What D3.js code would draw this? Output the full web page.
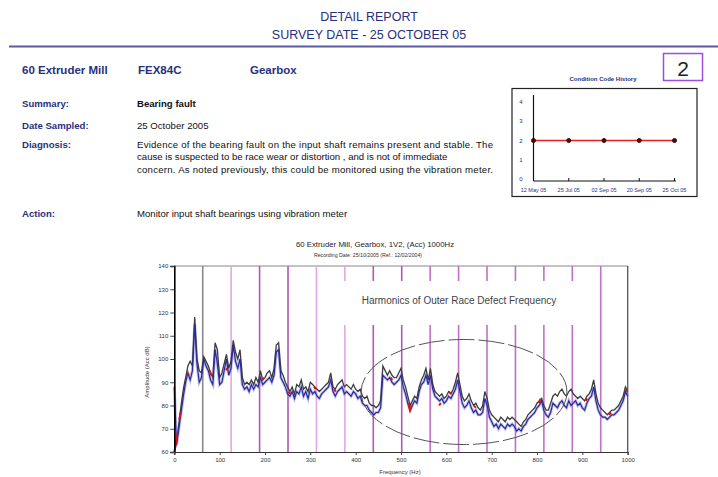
<!DOCTYPE html>
<html>
<head>
<meta charset="utf-8">
<script src="https://cdn.jsdelivr.net/npm/d3@7"></script>
<style>
  html, body { margin: 0; padding: 0; background: #fff; }
  svg { display: block; font-family: "Liberation Sans", Arial, sans-serif; }
</style>
</head>
<body>
<svg id="page" width="718" height="477"></svg>
<script>
// ---- Report data -------------------------------------------------------
const conditionDates = ["12 May 05", "25 Jul 05", "02 Sep 05", "20 Sep 05", "25 Oct 05"];
const conditionCodes = [2, 2, 2, 2, 2];
const conditionTicks = [0, 1, 2, 3, 4];

// Spectrum sampled every 5 Hz from 0 to 1000 Hz (Acc dB)
const freqStep = 5;
const referenceTrace = [
  60, 64, 72, 80, 87, 92, 97, 99, 97, 118, 100, 95, 94, 101, 99, 97, 94, 92, 107, 104,
  92, 94, 98, 102, 96, 99, 108, 103, 100, 104, 92, 89, 90, 89, 91, 89, 92, 90, 95, 91,
  92, 94, 95, 92, 96, 106, 107, 95, 93, 90, 88, 86, 88, 85, 89, 88, 91, 87, 88, 86,
  90, 89, 88, 87, 86, 87, 88, 89, 90, 94, 88, 87, 89, 90, 91, 88, 89, 88, 87, 89,
  87, 86, 87, 84, 83, 84, 81, 80, 80, 79, 80, 82, 97, 95, 93, 95, 93, 92, 92, 94,
  96, 91, 88, 84, 80, 82, 84, 83, 88, 91, 93, 96, 91, 96, 89, 86, 85, 84, 85, 83,
  84, 86, 85, 87, 90, 94, 89, 84, 82, 83, 85, 82, 80, 81, 79, 78, 80, 86, 83, 78,
  76, 75, 74, 73, 75, 74, 73, 75, 74, 75, 74, 73, 72, 71, 73, 74, 76, 77, 78, 79,
  81, 82, 83, 80, 78, 78, 81, 84, 85, 84, 86, 87, 85, 84, 86, 87, 85, 84, 83, 84,
  83, 82, 84, 85, 87, 91, 85, 81, 79, 78, 77, 76, 77, 78, 78, 79, 80, 82, 84, 88,
  86
];
const currentTrace = [
  88, 63, 70, 77, 84, 90, 94, 91, 95, 115, 98, 90, 92, 100, 97, 95, 91, 89, 104, 98,
  89, 90, 95, 100, 93, 96, 106, 99, 96, 100, 89, 87, 88, 86, 89, 87, 89, 88, 92, 89,
  90, 91, 92, 90, 93, 103, 104, 92, 90, 88, 85, 84, 86, 83, 86, 85, 88, 84, 86, 83,
  87, 85, 86, 84, 83, 85, 86, 87, 88, 91, 86, 84, 86, 87, 88, 85, 86, 85, 84, 86,
  85, 83, 84, 81, 80, 80, 78, 77, 76, 77, 77, 79, 93, 92, 91, 92, 90, 89, 90, 91,
  93, 88, 85, 81, 78, 80, 82, 81, 86, 89, 90, 93, 89, 93, 87, 84, 83, 82, 83, 81,
  82, 84, 83, 85, 87, 91, 86, 81, 79, 80, 82, 79, 77, 78, 76, 76, 77, 83, 80, 75,
  73, 71, 72, 70, 72, 71, 70, 72, 71, 72, 71, 69, 70, 69, 71, 72, 74, 75, 76, 77,
  79, 80, 82, 78, 76, 75, 77, 81, 80, 79, 81, 82, 80, 79, 82, 80, 81, 82, 80, 81,
  79, 78, 81, 83, 84, 88, 82, 78, 76, 75, 75, 74, 75, 76, 76, 77, 78, 80, 82, 86,
  84
];
// Short stretches where the third measurement shows through, as [Hz, dB]
const alarmTrace = [
  [[0, 60], [2, 62], [4, 65], [6, 68]],
  [[11, 74], [14, 77]],
  [[29, 94], [32, 93]],
  [[78, 95], [82, 93]],
  [[114, 96], [118, 95]],
  [[194, 91], [198, 92]],
  [[252, 86], [256, 85]],
  [[308, 88], [312, 87]],
  [[352, 87], [356, 86]],
  [[477, 92], [481, 91]],
  [[516, 81], [520, 78], [524, 80]],
  [[584, 80], [588, 81]],
  [[606, 86], [610, 85]],
  [[661, 80], [665, 79]],
  [[804, 81], [808, 83]],
  [[907, 82], [911, 83]],
  [[959, 76], [963, 77]],
  [[996, 87], [999, 86]]
];

const fundamentalHz = 62.7;            // outer race defect frequency
const harmonicOrders = d3.range(1, 16); // 1x .. 15x
const yTicks = [60, 70, 80, 90, 100, 110, 120, 130, 140];
const xTicks = [0, 100, 200, 300, 400, 500, 600, 700, 800, 900, 1000];
// Highlighted region (centre Hz, centre dB, half-width Hz, half-height dB)
const highlight = { f: 639, db: 85.8, rf: 227, rdb: 22.6 };

const navy = "#27307e";
const svg = d3.select("#page");

// ---- Header -------------------------------------------------------------
svg.append("text").attr("x", 369).attr("y", 21).attr("text-anchor", "middle")
  .attr("font-size", 12.5).attr("fill", navy).text("DETAIL REPORT");
svg.append("text").attr("x", 369).attr("y", 39).attr("text-anchor", "middle")
  .attr("font-size", 12.5).attr("fill", navy).text("SURVEY DATE - 25 OCTOBER 05");
svg.append("line").attr("x1", 9).attr("x2", 718).attr("y1", 46.5).attr("y2", 46.5)
  .attr("stroke", "#5a5aa8").attr("stroke-width", 2);

const head = svg.append("g").attr("font-size", 11.5).attr("font-weight", "bold").attr("fill", navy);
head.append("text").attr("x", 22).attr("y", 74).text("60 Extruder Mill");
head.append("text").attr("x", 138).attr("y", 74).text("FEX84C");
head.append("text").attr("x", 250).attr("y", 74).text("Gearbox");

svg.append("rect").attr("x", 663.5).attr("y", 53.5).attr("width", 39).attr("height", 27)
  .attr("fill", "none").attr("stroke", "#a04ce0").attr("stroke-width", 1.5);
svg.append("text").attr("x", 683).attr("y", 76).attr("text-anchor", "middle")
  .attr("font-size", 21).attr("fill", "#222").text("2");

const labels = svg.append("g").attr("font-size", 9.6).attr("font-weight", "bold").attr("fill", navy);
[["Summary:", 107], ["Date Sampled:", 128.5], ["Diagnosis:", 147.5], ["Action:", 216.5]]
  .forEach(([t, y]) => labels.append("text").attr("x", 22).attr("y", y).text(t));

const body = svg.append("g").attr("font-size", 9.6).attr("fill", "#111");
body.append("text").attr("x", 137).attr("y", 107).attr("font-weight", "bold").text("Bearing fault");
body.append("text").attr("x", 137).attr("y", 128.5).text("25 October 2005");
["Evidence of the bearing fault on the input shaft remains present and stable. The",
 "cause is suspected to be race wear or distortion , and is not of immediate",
 "concern. As noted previously, this could be monitored using the vibration meter."]
  .forEach((t, i) => body.append("text").attr("x", 137).attr("y", 147.5 + i * 12.5)
    .attr("textLength", i === 1 ? null : 356).text(t));
body.append("text").attr("x", 137).attr("y", 216.5).text("Monitor input shaft bearings using vibration meter");

// ---- Condition code history --------------------------------------------
svg.append("text").attr("x", 603).attr("y", 81).attr("text-anchor", "middle")
  .attr("font-size", 6).attr("font-weight", "bold").attr("fill", navy).text("Condition Code History");
svg.append("rect").attr("x", 512).attr("y", 88.5).attr("width", 185).attr("height", 108)
  .attr("fill", "none").attr("stroke", "#222").attr("stroke-width", 1.2);

const cx = d3.scalePoint().domain(conditionDates).range([533.5, 674.5]);
const cy = d3.scaleLinear().domain([0, 4]).range([179, 102]);
const cond = svg.append("g");
cond.append("line").attr("x1", 533.5).attr("x2", 533.5).attr("y1", 95).attr("y2", 181)
  .attr("stroke", "#111").attr("stroke-width", 1.2);
cond.append("line").attr("x1", 533.5).attr("x2", 676).attr("y1", 181).attr("y2", 181)
  .attr("stroke", "#111").attr("stroke-width", 1.2);
cond.selectAll(".ctk").data(conditionDates).join("line")
  .attr("x1", d => cx(d)).attr("x2", d => cx(d)).attr("y1", 181).attr("y2", 178)
  .attr("stroke", "#111");
cond.selectAll(".cyl").data(conditionTicks).join("text")
  .attr("x", 521).attr("y", d => cy(d) + 2).attr("text-anchor", "middle")
  .attr("font-size", 6).attr("fill", navy).text(d => d);
cond.selectAll(".cxl").data(conditionDates).join("text")
  .attr("x", d => cx(d)).attr("y", 192).attr("text-anchor", "middle")
  .attr("font-size", 5.5).attr("fill", navy).text(d => d);
cond.append("path").datum(conditionCodes)
  .attr("d", d3.line().x((d, i) => cx(conditionDates[i])).y(d => cy(d)))
  .attr("fill", "none").attr("stroke", "#e8201c").attr("stroke-width", 1.3);
cond.selectAll(".cpt").data(conditionCodes).join("circle")
  .attr("cx", (d, i) => cx(conditionDates[i])).attr("cy", d => cy(d)).attr("r", 2)
  .attr("fill", "#5a0a0a").attr("stroke", "#300");

// ---- Spectrum ----------------------------------------------------------
const x = d3.scaleLinear().domain([0, 1000]).range([174.3, 627.7]);
const y = d3.scaleLinear().domain([60, 140]).range([452, 266]);

svg.append("text").attr("x", 375).attr("y", 247).attr("text-anchor", "middle")
  .attr("font-size", 7.8).attr("fill", "#222").text("60 Extruder Mill, Gearbox, 1V2, (Acc) 1000Hz");
svg.append("text").attr("x", 368).attr("y", 257).attr("text-anchor", "middle")
  .attr("font-size", 5.2).attr("fill", "#333").text("Recording Date: 25/10/2005 (Ref.: 12/02/2004)");

const plot = svg.append("g");
// frame
plot.append("line").attr("x1", x(0)).attr("x2", x(1000)).attr("y1", y(140)).attr("y2", y(140))
  .attr("stroke", "#888").attr("stroke-width", 1);
plot.append("line").attr("x1", x(1000)).attr("x2", x(1000)).attr("y1", y(140)).attr("y2", y(60))
  .attr("stroke", "#555").attr("stroke-width", 1.3);

// harmonic markers
const harmonicColor = n => n === 1 ? "#8a8a8a"
  : ([2, 5, 6].includes(n) ? "#e2a8e2" : ([3, 4, 7, 8].includes(n) ? "#b058b4" : "#c070c8"));
plot.selectAll(".harm").data(harmonicOrders).join("line")
  .attr("x1", n => x(n * fundamentalHz)).attr("x2", n => x(n * fundamentalHz))
  .attr("y1", y(140)).attr("y2", y(60))
  .attr("stroke", harmonicColor).attr("stroke-width", 1.6);

// annotation label sits on a white panel over the markers
plot.append("rect").attr("x", 330).attr("y", 281).attr("width", 262).attr("height", 44).attr("fill", "#fff");
plot.append("text").attr("x", 459).attr("y", 304).attr("text-anchor", "middle")
  .attr("font-size", 10).attr("fill", "#444").text("Harmonics of Outer Race Defect Frequency");

// traces
const line = d3.line().x((d, i) => x(i * freqStep)).y(d => y(d));
plot.append("path").datum(currentTrace).attr("d", line)
  .attr("fill", "none").attr("stroke", "#8c8cdc").attr("stroke-width", 3).attr("opacity", 0.55);
plot.append("path").datum(referenceTrace).attr("d", line)
  .attr("fill", "none").attr("stroke", "#3c3c3c").attr("stroke-width", 1.3);
plot.append("path").datum(currentTrace).attr("d", line)
  .attr("fill", "none").attr("stroke", "#2a2a98").attr("stroke-width", 1.2);
const segLine = d3.line().x(d => x(d[0])).y(d => y(d[1]));
plot.selectAll(".alarm").data(alarmTrace).join("path")
  .attr("d", segLine).attr("fill", "none").attr("stroke", "#e01010").attr("stroke-width", 2);

// highlighted region
plot.append("ellipse")
  .attr("cx", x(highlight.f)).attr("cy", y(highlight.db))
  .attr("rx", x(highlight.rf) - x(0)).attr("ry", y(60) - y(60 + highlight.rdb))
  .attr("fill", "none").attr("stroke", "#555").attr("stroke-width", 1)
  .attr("stroke-dasharray", "26,4");

// axes
const yAxis = plot.append("g").attr("transform", `translate(${x(0)},0)`)
  .call(d3.axisLeft(y).tickValues(yTicks).tickSize(4).tickPadding(2));
yAxis.select(".domain").attr("stroke", "#000").attr("stroke-width", 1.6);
yAxis.selectAll("text").attr("font-size", 6).attr("fill", "#333").attr("font-family", "Liberation Sans, Arial");
yAxis.selectAll(".tick line").attr("stroke", "#444");

const xAxis = plot.append("g").attr("transform", `translate(0,${y(60)})`)
  .call(d3.axisBottom(x).tickValues(xTicks).tickFormat(d3.format("d")).tickSize(3).tickPadding(3));
xAxis.select(".domain").attr("stroke", "#333").attr("stroke-width", 1.2);
xAxis.selectAll("text").attr("font-size", 6).attr("fill", "#333").attr("font-family", "Liberation Sans, Arial");
xAxis.selectAll(".tick line").attr("stroke", "#444");

svg.append("text").attr("transform", "translate(149,372) rotate(-90)")
  .attr("text-anchor", "middle").attr("font-size", 6).attr("fill", "#333").text("Amplitude (Acc dB)");
svg.append("text").attr("x", 400).attr("y", 474).attr("text-anchor", "middle")
  .attr("font-size", 6).attr("fill", "#333").text("Frequency (Hz)");
</script>
</body>
</html>
